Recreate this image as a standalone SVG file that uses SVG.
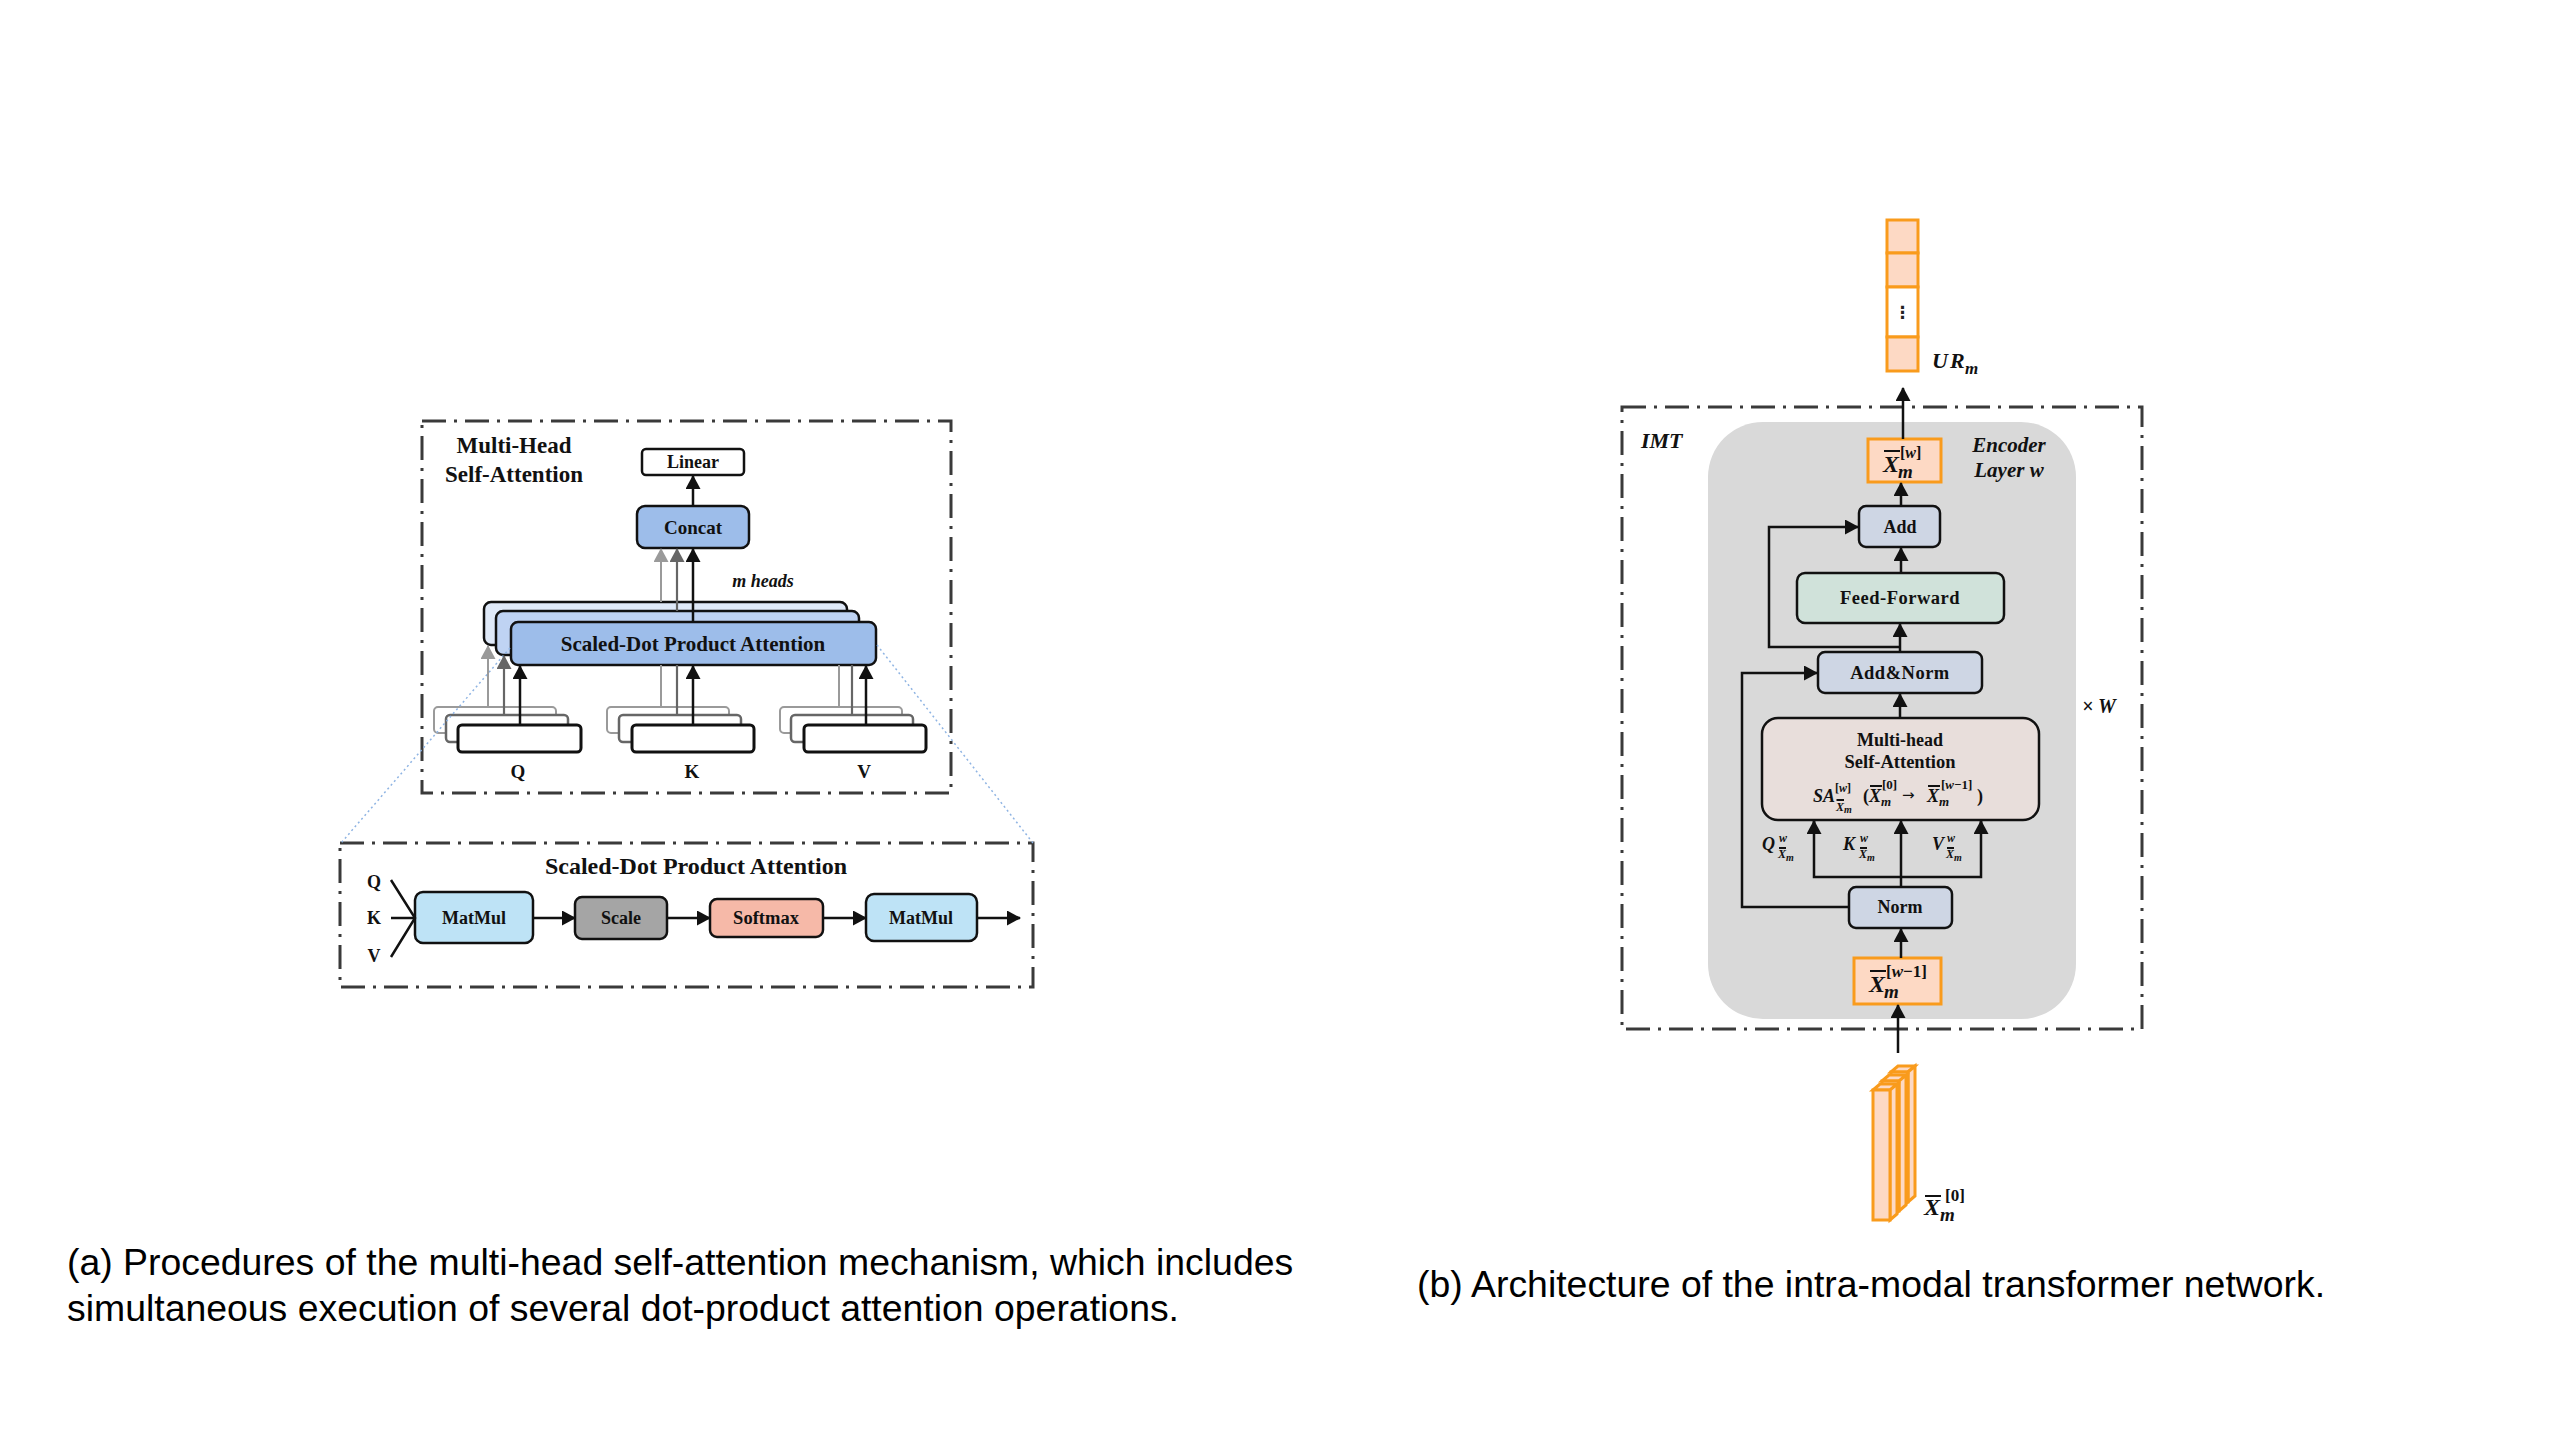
<svg xmlns="http://www.w3.org/2000/svg" width="2560" height="1440" viewBox="0 0 2560 1440">
<defs>
<style>
.t{font-family:"Liberation Serif","Times New Roman",serif;font-weight:bold;fill:#111}
.i{font-style:italic}
.c{text-anchor:middle}
.cap{font-family:"Liberation Sans",Arial,sans-serif;font-size:37.4px;fill:#000}
.bx{stroke:#111;stroke-width:2.5}
.dash{fill:none;stroke:#3a3a3a;stroke-width:3;stroke-dasharray:24 8 3 8}
.ln{fill:none;stroke:#111;stroke-width:2.5}
.lg{fill:none;stroke:#9a9a9a;stroke-width:2}
.dg{fill:none;stroke:#666;stroke-width:2.2}
.ob{fill:#fdd9c4;stroke:#f99b1c;stroke-width:3}
.ov{stroke:#111;stroke-width:2}
.zoomln{fill:none;stroke:#8fb4e3;stroke-width:1.5;stroke-dasharray:2 3}
</style>
<marker id="ab" viewBox="0 0 14 15" refX="13" refY="7.5" markerWidth="14" markerHeight="15" markerUnits="userSpaceOnUse" orient="auto"><path d="M0,0 L14,7.5 L0,15 z" fill="#111"/></marker>
<marker id="ad" viewBox="0 0 14 15" refX="13" refY="7.5" markerWidth="14" markerHeight="15" markerUnits="userSpaceOnUse" orient="auto"><path d="M0,0 L14,7.5 L0,15 z" fill="#666"/></marker>
<marker id="al" viewBox="0 0 14 15" refX="13" refY="7.5" markerWidth="14" markerHeight="15" markerUnits="userSpaceOnUse" orient="auto"><path d="M0,0 L14,7.5 L0,15 z" fill="#9a9a9a"/></marker>
</defs>
<rect width="2560" height="1440" fill="#fff"/>

<!-- ===== (a) Multi-head self-attention ===== -->
<g id="mhsa-frame">
<rect class="dash" x="422" y="421" width="529" height="372"/>
<text class="t c" x="514" y="453" font-size="23">Multi-Head</text>
<text class="t c" x="514" y="482" font-size="23">Self-Attention</text>
</g>
<g id="linear">
<rect class="bx" x="642" y="449" width="102" height="26" rx="4" fill="#fff"/>
<text class="t c" x="693" y="468" font-size="18">Linear</text>
</g>
<g id="concat">
<rect class="bx" x="637" y="506" width="112" height="42" rx="8" fill="#9dbdea"/>
<text class="t c" x="693" y="534" font-size="19">Concat</text>
</g>
<text class="t i c" x="763" y="587" font-size="18">m heads</text>
<g id="sdpa-stack">
<rect class="bx" x="484" y="602" width="363" height="43" rx="7" fill="#dfe9f8"/>
<rect class="bx" x="496" y="611" width="363" height="44" rx="7" fill="#bfd3f3"/>
<rect class="bx" x="511" y="622" width="365" height="43" rx="7" fill="#9dbdea"/>
<text class="t c" x="693" y="651" font-size="21">Scaled-Dot Product Attention</text>
</g>
<g id="q-in">
<rect x="434" y="707" width="122" height="26" rx="4" fill="#fff" stroke="#9a9a9a" stroke-width="2"/>
<rect x="446" y="715" width="122" height="27" rx="4" fill="#fff" stroke="#666" stroke-width="2.5"/>
<rect x="458" y="725" width="123" height="27" rx="4" fill="#fff" stroke="#111" stroke-width="3"/>
<text class="t c" x="518" y="778" font-size="19">Q</text>
</g>
<g id="k-in">
<rect x="607" y="707" width="122" height="26" rx="4" fill="#fff" stroke="#9a9a9a" stroke-width="2"/>
<rect x="619" y="715" width="122" height="27" rx="4" fill="#fff" stroke="#666" stroke-width="2.5"/>
<rect x="632" y="725" width="122" height="27" rx="4" fill="#fff" stroke="#111" stroke-width="3"/>
<text class="t c" x="692" y="778" font-size="19">K</text>
</g>
<g id="v-in">
<rect x="780" y="707" width="122" height="26" rx="4" fill="#fff" stroke="#9a9a9a" stroke-width="2"/>
<rect x="791" y="715" width="122" height="27" rx="4" fill="#fff" stroke="#666" stroke-width="2.5"/>
<rect x="804" y="725" width="122" height="27" rx="4" fill="#fff" stroke="#111" stroke-width="3"/>
<text class="t c" x="864" y="778" font-size="19">V</text>
</g>

<!-- ===== bottom: scaled dot product detail ===== -->
<g id="sdpa-frame">
<rect class="dash" x="340" y="843" width="693" height="144"/>
<text class="t c" x="696" y="874" font-size="24">Scaled-Dot Product Attention</text>
<text class="t c" x="374" y="888" font-size="18">Q</text>
<text class="t c" x="374" y="924" font-size="18">K</text>
<text class="t c" x="374" y="962" font-size="18">V</text>
</g>
<g id="matmul1">
<rect class="bx" x="415" y="892" width="118" height="51" rx="8" fill="#bee3f6"/>
<text class="t c" x="474" y="924" font-size="18">MatMul</text>
</g>
<g id="scale">
<rect class="bx" x="575" y="897" width="92" height="42" rx="7" fill="#a5a5a5"/>
<text class="t c" x="621" y="924" font-size="18">Scale</text>
</g>
<g id="softmax">
<rect class="bx" x="710" y="899" width="113" height="38" rx="7" fill="#f6b9a8"/>
<text class="t c" x="766" y="924" font-size="18.5">Softmax</text>
</g>
<g id="matmul2">
<rect class="bx" x="866" y="894" width="111" height="47" rx="8" fill="#bee3f6"/>
<text class="t c" x="921" y="924" font-size="18">MatMul</text>
</g>

<!-- ===== (b) IMT ===== -->
<g id="imt-frame">
<rect class="dash" x="1622" y="407" width="520" height="622"/>
<text class="t i" x="1641" y="448" font-size="22">IMT</text>
<text class="t i" x="2082" y="713" font-size="20">× W</text>
</g>
<g id="encoder-layer">
<rect x="1708" y="422" width="368" height="597" rx="55" fill="#d9d9d9"/>
<text class="t i c" x="2009" y="452" font-size="21">Encoder</text>
<text class="t i c" x="2009" y="477" font-size="21">Layer w</text>
</g>
<g id="ur-column">
<rect class="ob" x="1887" y="220" width="31" height="33"/>
<rect class="ob" x="1887" y="253" width="31" height="34"/>
<rect x="1887" y="287" width="31" height="50" fill="#fff" stroke="#f99b1c" stroke-width="3"/>
<rect class="ob" x="1887" y="337" width="31" height="34"/>
<text x="1902.5" y="318" font-family="DejaVu Sans, sans-serif" font-weight="bold" font-size="17" text-anchor="middle" fill="#222">⋮</text>
<text class="t i" x="1932" y="368" font-size="22" letter-spacing="2">UR</text>
<text class="t i" x="1965" y="374" font-size="17">m</text>
</g>
<g id="x-w">
<rect class="ob" x="1868" y="439" width="73" height="43"/>
<text class="t i" x="1883" y="472" font-size="24">X</text>
<line class="ov" x1="1884" y1="451" x2="1900" y2="451"/>
<text class="t i" x="1898" y="478" font-size="19">m</text>
<text class="t" x="1900" y="458" font-size="16">[<tspan font-style="italic">w</tspan>]</text>
</g>
<g id="add">
<rect class="bx" x="1859" y="506" width="81" height="41" rx="7" fill="#ced6e4"/>
<text class="t c" x="1900" y="533" font-size="18">Add</text>
</g>
<g id="feed-forward">
<rect class="bx" x="1797" y="573" width="207" height="50" rx="8" fill="#d0e2da"/>
<text class="t c" x="1900" y="604" font-size="18.5" letter-spacing="0.5">Feed-Forward</text>
</g>
<g id="add-norm">
<rect class="bx" x="1818" y="652" width="164" height="41" rx="7" fill="#ced6e4"/>
<text class="t c" x="1900" y="679" font-size="18.5" letter-spacing="0.5">Add&amp;Norm</text>
</g>
<g id="multihead-sa">
<rect class="bx" x="1762" y="718" width="277" height="102" rx="16" fill="#e8dedb"/>
<text class="t c" x="1900" y="746" font-size="18">Multi-head</text>
<text class="t c" x="1900" y="768" font-size="18.5">Self-Attention</text>
<text class="t i" x="1813" y="802" font-size="18">SA</text>
<text class="t" x="1835" y="792" font-size="12">[<tspan font-style="italic">w</tspan>]</text>
<text class="t i" x="1836" y="811" font-size="12">X</text>
<line class="ov" x1="1836.5" y1="800" x2="1844" y2="800" stroke-width="1.3"/>
<text class="t i" x="1844" y="813" font-size="10">m</text>
<text class="t" x="1863" y="802" font-size="18">(</text>
<text class="t i" x="1869" y="802" font-size="18">X</text>
<line class="ov" x1="1870" y1="786" x2="1882" y2="786" stroke-width="1.6"/>
<text class="t i" x="1881" y="806" font-size="13">m</text>
<text class="t" x="1882" y="789" font-size="13">[0]</text>
<text x="1902" y="800" font-family="DejaVu Sans, sans-serif" font-size="15" fill="#111">→</text>
<text class="t i" x="1927" y="802" font-size="18">X</text>
<line class="ov" x1="1928" y1="786" x2="1940" y2="786" stroke-width="1.6"/>
<text class="t i" x="1939" y="806" font-size="13">m</text>
<text class="t" x="1941" y="789" font-size="13">[<tspan font-style="italic">w</tspan>−1]</text>
<text class="t" x="1977" y="802" font-size="18">)</text>
</g>
<g id="qkv-labels">
<text class="t i" x="1762" y="850" font-size="18">Q</text>
<text class="t i" x="1779" y="842" font-size="12">w</text>
<text class="t i" x="1778" y="858" font-size="12">X</text>
<line class="ov" x1="1779" y1="848" x2="1786" y2="848" stroke-width="1.3"/>
<text class="t i" x="1786" y="861" font-size="10">m</text>
<text class="t i" x="1843" y="850" font-size="18">K</text>
<text class="t i" x="1860" y="842" font-size="12">w</text>
<text class="t i" x="1859" y="858" font-size="12">X</text>
<line class="ov" x1="1860" y1="848" x2="1867" y2="848" stroke-width="1.3"/>
<text class="t i" x="1867" y="861" font-size="10">m</text>
<text class="t i" x="1932" y="850" font-size="18">V</text>
<text class="t i" x="1947" y="842" font-size="12">w</text>
<text class="t i" x="1946" y="858" font-size="12">X</text>
<line class="ov" x1="1947" y1="848" x2="1954" y2="848" stroke-width="1.3"/>
<text class="t i" x="1954" y="861" font-size="10">m</text>
</g>
<g id="norm">
<rect class="bx" x="1849" y="887" width="103" height="41" rx="7" fill="#ced6e4"/>
<text class="t c" x="1900" y="913" font-size="18">Norm</text>
</g>
<g id="x-w-1">
<rect class="ob" x="1854" y="958" width="87" height="46"/>
<text class="t i" x="1869" y="992" font-size="24">X</text>
<line class="ov" x1="1870" y1="971" x2="1886" y2="971"/>
<text class="t i" x="1884" y="998" font-size="19">m</text>
<text class="t" x="1886" y="977" font-size="17">[<tspan font-style="italic">w</tspan>−1]</text>
</g>
<g id="x-0">
<path class="ob" stroke-width="2" d="M1891,1090 L1898,1084 L1898,1196 L1891,1202 Z M1891,1072 L1898,1066 L1915,1066 L1908,1072 Z"/>
<path class="ob" stroke-width="2" d="M1908,1072 L1915,1066 L1915,1196 L1908,1202 Z"/>
<rect class="ob" stroke-width="2" x="1891" y="1072" width="17" height="130"/>
<path class="ob" stroke-width="2" d="M1882,1081 L1889,1075 L1906,1075 L1899,1081 Z M1899,1081 L1906,1075 L1906,1205 L1899,1211 Z"/>
<rect class="ob" stroke-width="2" x="1882" y="1081" width="17" height="130"/>
<path class="ob" stroke-width="2" d="M1873,1090 L1880,1084 L1897,1084 L1890,1090 Z M1890,1090 L1897,1084 L1897,1214 L1890,1220 Z"/>
<rect class="ob" stroke-width="2" x="1873" y="1090" width="17" height="130"/>
<text class="t i" x="1924" y="1215" font-size="24">X</text>
<line class="ov" x1="1925" y1="1196" x2="1941" y2="1196"/>
<text class="t i" x="1940" y="1221" font-size="19">m</text>
<text class="t" x="1945" y="1201" font-size="17">[0]</text>
</g>

<!-- ===== connectors ===== -->
<g id="connectors">
<!-- zoom guide lines -->
<line class="zoomln" x1="510" y1="648" x2="341" y2="843"/>
<line class="zoomln" x1="877" y1="645" x2="1033" y2="843"/>
<!-- (a) -->
<line class="ln" x1="693" y1="506" x2="693" y2="476" marker-end="url(#ab)"/>
<line class="lg" x1="661" y1="602" x2="661" y2="549" marker-end="url(#al)"/>
<line class="dg" x1="677" y1="611" x2="677" y2="549" marker-end="url(#ad)"/>
<line class="ln" x1="693" y1="622" x2="693" y2="549" marker-end="url(#ab)"/>
<line class="lg" x1="488" y1="707" x2="488" y2="646" marker-end="url(#al)"/>
<line class="dg" x1="504" y1="715" x2="504" y2="656" marker-end="url(#ad)"/>
<line class="ln" x1="520" y1="725" x2="520" y2="666" marker-end="url(#ab)"/>
<line class="lg" x1="661" y1="707" x2="661" y2="665"/>
<line class="dg" x1="677" y1="715" x2="677" y2="665"/>
<line class="ln" x1="693" y1="725" x2="693" y2="666" marker-end="url(#ab)"/>
<line class="lg" x1="839" y1="707" x2="839" y2="665"/>
<line class="dg" x1="852" y1="715" x2="852" y2="665"/>
<line class="ln" x1="866" y1="725" x2="866" y2="666" marker-end="url(#ab)"/>
<!-- bottom -->
<polyline class="ln" stroke-width="2" points="391,880 415,918 391,957"/>
<line class="ln" stroke-width="2" x1="391" y1="918" x2="415" y2="918"/>
<line class="ln" x1="533" y1="918" x2="575" y2="918" marker-end="url(#ab)"/>
<line class="ln" x1="667" y1="918" x2="710" y2="918" marker-end="url(#ab)"/>
<line class="ln" x1="823" y1="918" x2="866" y2="918" marker-end="url(#ab)"/>
<line class="ln" x1="977" y1="918" x2="1020" y2="918" marker-end="url(#ab)"/>
<!-- (b) -->
<line class="ln" x1="1903" y1="439" x2="1903" y2="388" marker-end="url(#ab)"/>
<line class="ln" x1="1901" y1="506" x2="1901" y2="483" marker-end="url(#ab)"/>
<line class="ln" x1="1901" y1="573" x2="1901" y2="548" marker-end="url(#ab)"/>
<line class="ln" x1="1900" y1="652" x2="1900" y2="624" marker-end="url(#ab)"/>
<polyline class="ln" points="1900,647 1769,647 1769,527 1858,527" marker-end="url(#ab)"/>
<line class="ln" x1="1900" y1="718" x2="1900" y2="694" marker-end="url(#ab)"/>
<polyline class="ln" points="1849,907 1742,907 1742,673 1817,673" marker-end="url(#ab)"/>
<line class="ln" x1="1901" y1="887" x2="1901" y2="821" marker-end="url(#ab)"/>
<polyline class="ln" points="1814,821 1814,877 1981,877 1981,821"/>
<line class="ln" x1="1814" y1="830" x2="1814" y2="821" marker-end="url(#ab)"/>
<line class="ln" x1="1981" y1="830" x2="1981" y2="821" marker-end="url(#ab)"/>
<line class="ln" x1="1901" y1="958" x2="1901" y2="929" marker-end="url(#ab)"/>
<line class="ln" x1="1898" y1="1053" x2="1898" y2="1005" marker-end="url(#ab)"/>
</g>

<!-- ===== captions ===== -->
<text class="cap" x="67" y="1275">(a) Procedures of the multi-head self-attention mechanism, which includes</text>
<text class="cap" x="67" y="1321">simultaneous execution of several dot-product attention operations.</text>
<text class="cap" x="1417" y="1297">(b) Architecture of the intra-modal transformer network.</text>
</svg>
